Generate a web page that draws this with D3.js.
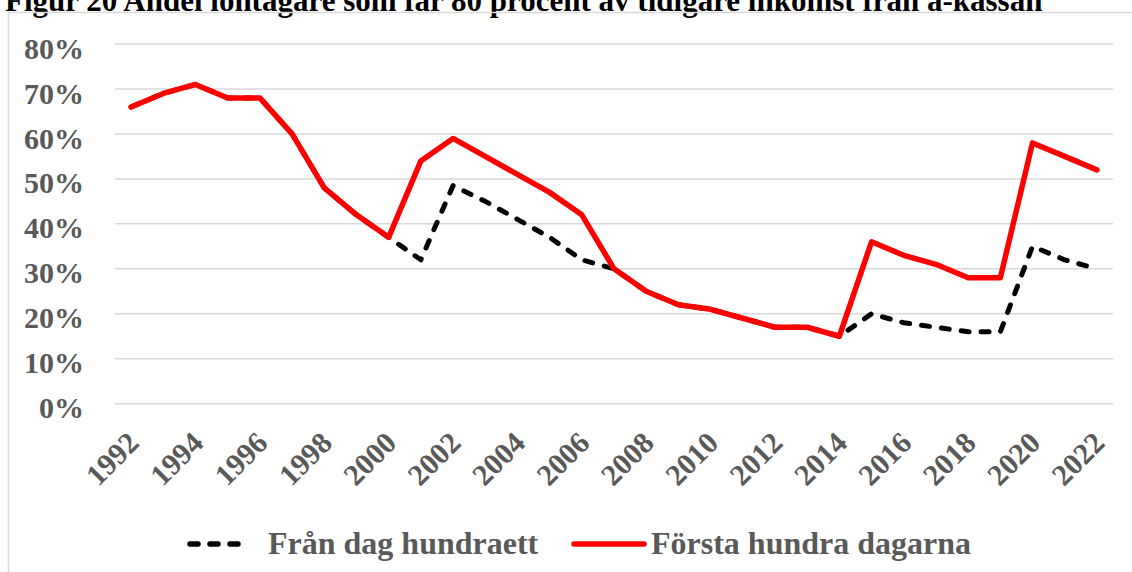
<!DOCTYPE html>
<html lang="sv">
<head>
  <meta charset="UTF-8">
  <title>Figur 20</title>
  <script src="https://cdn.jsdelivr.net/npm/d3@7"></script>
  <style>
    body { margin: 0; background: #fff; }
    text { font-family: "Liberation Serif", "Times New Roman", serif; font-weight: bold; }
  </style>
</head>
<body>
  <svg width="1132" height="572" id="main"></svg>
<script>
  // data
  const years = d3.range(1992, 2023);
  const yearLabels = years.filter(y => y % 2 === 0);
  const yTicks = [0, 0.1, 0.2, 0.3, 0.4, 0.5, 0.6, 0.7, 0.8];
  const fromDay101 = [66, 69, 71, 68, 68, 60, 48, 42, 37, 32, 48.5, 45, 41, 37, 32, 30,
    25, 22, 21, 19, 17, 17, 15, 20, 18, 17, 16, 16, 35, 32, 30];
  const first100 = [66, 69, 71, 68, 68, 60, 48, 42, 37, 54, 59, 55, 51, 47, 42, 30,
    25, 22, 21, 19, 17, 17, 15, 36, 33, 31, 28, 28, 58, 55, 52];
  const seriesNames = ['Från dag hundraett', 'Första hundra dagarna'];
  const title = 'Figur 20 Andel löntagare som får 80 procent av tidigare inkomst från a-kassan';

  const svg = d3.select('#main');
  const grey = '#595959';

  // titel (klipps i överkant som i originalet)
  svg.append('text')
    .attr('x', 5).attr('y', 11)
    .attr('font-size', 31)
    .attr('fill', '#000')
    .text(title);

  // ram
  svg.append('rect')
    .attr('x', 8.5).attr('y', 12.5)
    .attr('width', 1130).attr('height', 600)
    .attr('fill', 'none')
    .attr('stroke', '#d9d9d9')
    .attr('stroke-width', 1.5);

  const x = d3.scalePoint().domain(years).range([115, 1113]).padding(0.5);
  const y = d3.scaleLinear().domain([0, 0.8]).range([403.7, 44]);

  // stödlinjer
  svg.append('g')
    .selectAll('line')
    .data(yTicks)
    .join('line')
    .attr('x1', 115).attr('x2', 1113)
    .attr('y1', d => y(d)).attr('y2', d => y(d))
    .attr('stroke', '#d9d9d9')
    .attr('stroke-width', 1.5);

  // y-axel
  const yAxis = svg.append('g')
    .attr('transform', 'translate(115,0)')
    .call(d3.axisLeft(y).tickValues(yTicks).tickFormat(d3.format('.0%')).tickSize(0).tickPadding(31));
  yAxis.select('.domain').remove();
  yAxis.selectAll('text')
    .attr('font-family', null)
    .attr('font-size', 30)
    .attr('fill', grey)
    .attr('dy', '0.47em');

  // x-axel
  const xAxis = svg.append('g')
    .attr('transform', `translate(0,${y(0)})`)
    .call(d3.axisBottom(x).tickValues(yearLabels).tickSize(0));
  xAxis.select('.domain').remove();
  xAxis.selectAll('text')
    .attr('font-family', null)
    .attr('font-size', 30)
    .attr('fill', grey)
    .attr('y', 0).attr('dy', 0)
    .attr('text-anchor', 'end')
    .attr('transform', 'translate(9,41) rotate(-45)');

  // linjer
  const line = d3.line()
    .x((d, i) => x(years[i]))
    .y(d => y(d / 100));

  svg.append('path')
    .datum(fromDay101)
    .attr('d', line)
    .attr('fill', 'none')
    .attr('stroke', '#000')
    .attr('stroke-width', 5)
    .attr('stroke-dasharray', '8,12')
    .attr('stroke-linecap', 'round')
    .attr('stroke-linejoin', 'round');

  svg.append('path')
    .datum(first100)
    .attr('d', line)
    .attr('fill', 'none')
    .attr('stroke', '#ff0000')
    .attr('stroke-width', 5.5)
    .attr('stroke-linecap', 'round')
    .attr('stroke-linejoin', 'round');

  // teckenförklaring
  const legend = [
    {name: seriesNames[0], x: 190, w: 58, dash: '8,12', color: '#000', tx: 268},
    {name: seriesNames[1], x: 574, w: 70, dash: null, color: '#ff0000', tx: 651},
  ];
  const lg = svg.append('g').selectAll('g').data(legend).join('g');
  lg.append('line')
    .attr('x1', d => d.x).attr('x2', d => d.x + d.w)
    .attr('y1', 544).attr('y2', 544)
    .attr('stroke', d => d.color)
    .attr('stroke-width', 5.5)
    .attr('stroke-linecap', 'round')
    .attr('stroke-dasharray', d => d.dash);
  lg.append('text')
    .attr('x', d => d.tx).attr('y', 554)
    .attr('font-size', 32)
    .attr('fill', grey)
    .text(d => d.name);
</script>
</body>
</html>
